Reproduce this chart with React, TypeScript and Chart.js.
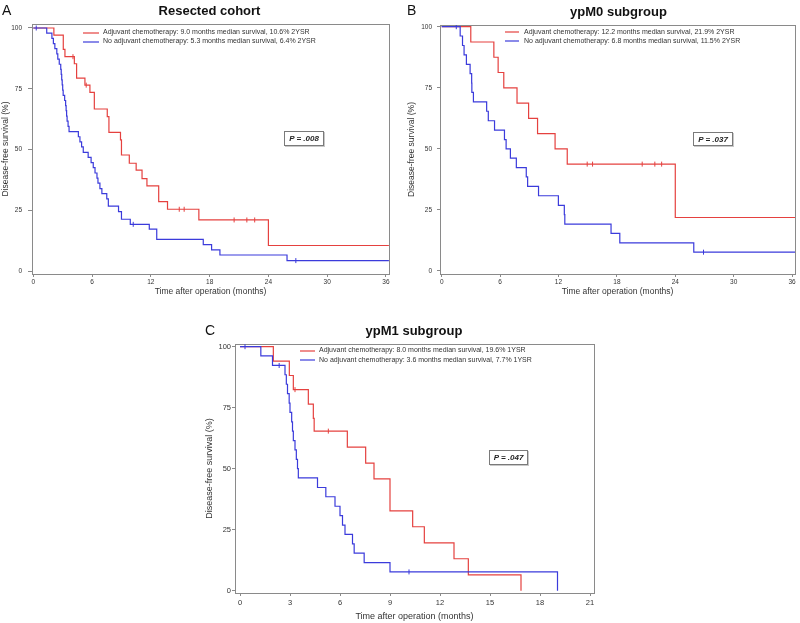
import React, { useEffect, useRef } from 'react';
import { Chart, registerables } from 'chart.js';
Chart.register(...registerables);

const FONT = "'Liberation Sans', Arial, Helvetica, sans-serif";
const RED = '#e5413f';
const BLUE = '#3b3bdb';
const FRAME = '#8a8a8a';
const TEXT = '#333333';

// ---------- data ----------
const Y_TICKS = [0, 25, 50, 75, 100];
const X_TICKS_36 = [0, 6, 12, 18, 24, 30, 36];
const X_TICKS_21 = [0, 3, 6, 9, 12, 15, 18, 21];

// Panel A: Resected cohort
const A_ADJ_T = [0, 2.1, 3.06, 3.23, 4.19, 4.42, 5.27, 5.78, 6.23, 7.55, 7.72, 8.9, 9.0, 9.8, 10.5, 11.1, 11.6, 12.8, 13.7, 16.9, 24.0, 36.3];
const A_ADJ_S = [100, 97.1, 91.2, 88.2, 85.3, 79.4, 76.5, 73.5, 66.7, 63.6, 57.1, 54.0, 47.8, 44.4, 41.6, 38.1, 35.1, 28.6, 25.5, 21.1, 10.6, 10.6];
const A_ADJ_CT = [4.05, 5.4, 14.9, 15.4, 20.5, 21.8, 22.6];
const A_ADJ_CS = [88.2, 76.5, 25.5, 25.5, 21.1, 21.1, 21.1];
const A_NO_T = [0, 1.37, 1.9, 2.05, 2.2, 2.4, 2.5, 2.65, 2.8, 2.85, 2.9, 2.95, 3.0, 3.05, 3.2, 3.3, 3.35, 3.4, 3.45, 3.55, 3.65, 4.6, 4.76, 4.93, 5.1, 5.6, 5.9, 6.12, 6.3, 6.5, 6.6, 6.8, 7.0, 7.5, 7.66, 8.7, 9.0, 9.9, 11.84, 12.6, 17.35, 18.2, 19.05, 25.9, 36.3];
const A_NO_S = [100, 97.9, 95.7, 93.6, 91.5, 89.4, 87.2, 85.1, 83.0, 80.9, 78.7, 76.6, 74.5, 72.3, 70.2, 68.1, 66.0, 63.8, 61.7, 59.6, 57.4, 55.3, 53.2, 51.1, 48.9, 46.8, 44.7, 42.6, 40.4, 38.3, 36.2, 34.0, 31.9, 29.8, 26.8, 24.5, 21.4, 19.3, 17.3, 13.1, 11.0, 8.8, 6.7, 4.4, 4.4];
const A_NO_CT = [0.3, 10.2, 26.8];
const A_NO_CS = [100, 19.3, 4.4];

// Panel B: ypM0 subgroup
const B_ADJ_T = [0, 2.99, 5.36, 5.8, 6.38, 7.74, 8.93, 9.85, 11.65, 12.9, 24.0, 36.3];
const B_ADJ_S = [100, 93.75, 87.5, 81.25, 75, 68.75, 62.5, 56.25, 50, 43.75, 21.9, 21.9];
const B_ADJ_CT = [14.95, 15.5, 20.6, 21.9, 22.6];
const B_ADJ_CS = [43.75, 43.75, 43.75, 43.75, 43.75];
const B_NO_T = [0, 1.9, 2.14, 2.3, 2.54, 2.92, 3.08, 3.1, 3.26, 4.62, 4.79, 5.43, 6.45, 6.62, 7.06, 7.67, 8.69, 8.83, 9.95, 11.99, 12.6, 12.65, 17.4, 18.3, 25.9, 36.3];
const B_NO_S = [100, 96.2, 92.3, 88.5, 84.6, 80.8, 76.9, 73.1, 69.2, 65.4, 61.5, 57.7, 53.8, 50.0, 46.2, 42.3, 38.5, 34.6, 30.8, 26.9, 23.1, 19.2, 15.4, 11.5, 7.7, 7.7];
const B_NO_CT = [1.5, 26.9];
const B_NO_CS = [100, 7.7];

// Panel C: ypM1 subgroup
const C_ADJ_T = [0, 2.0, 2.96, 3.2, 4.1, 4.4, 4.45, 6.44, 7.54, 8.04, 9.0, 10.36, 11.06, 12.84, 13.7, 16.86];
const C_ADJ_S = [100, 94.1, 88.2, 82.4, 76.5, 70.6, 65.4, 58.8, 52.3, 45.8, 32.7, 26.2, 19.6, 13.1, 6.5, 0];
const C_ADJ_CT = [3.3, 5.3];
const C_ADJ_CS = [82.4, 65.4];
const C_NO_T = [0, 1.25, 1.95, 2.7, 2.78, 2.85, 2.95, 3.0, 3.1, 3.15, 3.2, 3.3, 3.38, 3.45, 3.5, 4.65, 5.15, 5.7, 6.0, 6.15, 6.3, 6.75, 6.85, 7.45, 9.0, 19.05];
const C_NO_S = [100, 96.2, 92.3, 88.5, 84.6, 80.8, 76.9, 73.1, 69.2, 65.4, 61.5, 57.7, 53.8, 50.0, 46.2, 42.3, 38.5, 34.6, 30.8, 26.9, 23.1, 19.2, 15.4, 11.5, 7.7, 0];
const C_NO_CT = [0.3, 2.35, 10.14];
const C_NO_CS = [100, 92.3, 7.7];

// ---------- texts ----------
const X_TITLE = 'Time after operation (months)';
const Y_TITLE = 'Disease-free survival (%)';

const framePlugin = {
  id: 'frame',
  beforeDatasetsDraw(chart: any) {
    const { ctx, chartArea: a } = chart;
    ctx.save();
    ctx.strokeStyle = FRAME;
    ctx.lineWidth = 1;
    ctx.strokeRect(Math.round(a.left) + 0.5, Math.round(a.top) + 0.5, Math.round(a.right - a.left), Math.round(a.bottom - a.top));
    ctx.restore();
  },
};

function pts(t: number[], s: number[]) {
  return t.map((x, i) => ({ x, y: s[i] }));
}

type PanelProps = {
  left: number; top: number; width: number; height: number;
  padTop: number; padRight: number; yWidth: number; xHeight: number;
  xMin: number; xMax: number; yMin: number; yMax: number; xTicks: number[];
  tickSize: number; titleSize: number;
  yTickLen: number; yTickPad: number; xTickLen: number; xTickPad: number;
  yTitlePad: number; xTitlePad: number;
  adj: [number[], number[], number[], number[]];
  no: [number[], number[], number[], number[]];
};

function KMPanel(p: PanelProps) {
  const ref = useRef<HTMLCanvasElement>(null);
  useEffect(() => {
    const line = (d: any[], color: string) => ({
      data: d, borderColor: color, backgroundColor: color, borderWidth: 1.2,
      stepped: 'before' as const, pointRadius: 0, fill: false, tension: 0,
    });
    const cens = (d: any[], color: string) => ({
      data: d, borderColor: color, backgroundColor: color, showLine: false,
      pointStyle: 'line' as const, rotation: 90, pointRadius: 2.5, pointBorderWidth: 1, borderWidth: 1,
    });
    const chart = new Chart(ref.current as HTMLCanvasElement, {
      type: 'line',
      data: {
        datasets: [
          line(pts(p.no[0], p.no[1]), BLUE),
          cens(pts(p.no[2], p.no[3]), BLUE),
          line(pts(p.adj[0], p.adj[1]), RED),
          cens(pts(p.adj[2], p.adj[3]), RED),
        ] as any,
      },
      options: {
        animation: false,
        responsive: false,
        maintainAspectRatio: false,
        devicePixelRatio: 1,
        layout: { padding: { top: p.padTop, right: p.padRight, left: 0, bottom: 0 } },
        plugins: { legend: { display: false }, tooltip: { enabled: false }, title: { display: false } },
        scales: {
          x: {
            type: 'linear', min: p.xMin, max: p.xMax,
            afterBuildTicks: (s: any) => { s.ticks = p.xTicks.map((v) => ({ value: v })); },
            afterFit: (s: any) => { s.height = p.xHeight; s.paddingLeft = 0; s.paddingRight = 0; },
            grid: { drawOnChartArea: false, drawTicks: true, tickLength: p.xTickLen, color: FRAME },
            border: { display: true, color: FRAME },
            ticks: { font: { family: FONT, size: p.tickSize, lineHeight: 1 }, color: TEXT, padding: p.xTickPad, maxRotation: 0, autoSkip: false },
            title: { display: true, text: X_TITLE, color: TEXT, font: { family: FONT, size: p.titleSize, lineHeight: 1 }, padding: { top: 0, bottom: p.xTitlePad } },
          },
          y: {
            type: 'linear', min: p.yMin, max: p.yMax,
            afterBuildTicks: (s: any) => { s.ticks = Y_TICKS.map((v) => ({ value: v })); },
            afterFit: (s: any) => { s.width = p.yWidth; s.paddingTop = 0; s.paddingBottom = 0; },
            grid: { drawOnChartArea: false, drawTicks: true, tickLength: p.yTickLen, color: FRAME },
            border: { display: true, color: FRAME },
            ticks: { font: { family: FONT, size: p.tickSize, lineHeight: 1 }, color: TEXT, padding: p.yTickPad, autoSkip: false },
            title: { display: true, text: Y_TITLE, color: TEXT, font: { family: FONT, size: p.titleSize, lineHeight: 1 }, padding: { top: p.yTitlePad, bottom: 0 } },
          },
        },
      } as any,
      plugins: [framePlugin],
    });
    return () => chart.destroy();
  }, []);
  return (
    <canvas ref={ref} width={p.width} height={p.height}
      style={{ position: 'absolute', left: p.left, top: p.top, width: p.width, height: p.height }} />
  );
}

function Txt(props: { x: number; y: number; size: number; text: string; bold?: boolean; italic?: boolean; center?: boolean; color?: string }) {
  const { x, y, size, text, bold, italic, center, color } = props;
  return (
    <div style={{
      position: 'absolute', left: center ? x - 300 : x, width: center ? 600 : undefined,
      top: y - size, height: size * 2, lineHeight: `${size * 2}px`, fontSize: size,
      fontFamily: FONT, fontWeight: bold ? 'bold' : 'normal', fontStyle: italic ? 'italic' : 'normal',
      textAlign: center ? 'center' : 'left', whiteSpace: 'nowrap', color: color || '#111',
    }}>{text}</div>
  );
}

function Swatch(props: { x1: number; x2: number; y: number; color: string }) {
  return (
    <svg style={{ position: 'absolute', left: props.x1, top: Math.round(props.y) - 2, overflow: 'visible' }}
      width={props.x2 - props.x1} height={4}>
      <line x1={0} y1={2} x2={props.x2 - props.x1} y2={2} stroke={props.color} strokeWidth={1.2} />
    </svg>
  );
}

function Legend(props: { x1: number; x2: number; tx: number; y1: number; y2: number; adj: string; no: string }) {
  const { x1, x2, tx, y1, y2 } = props;
  return (
    <>
      <Swatch x1={x1} x2={x2} y={y1} color={RED} />
      <Txt x={tx} y={y1 - 0.5} size={7} text={props.adj} color={TEXT} />
      <Swatch x1={x1} x2={x2} y={y2} color={BLUE} />
      <Txt x={tx} y={y2 - 0.5} size={7} text={props.no} color={TEXT} />
    </>
  );
}

function PBox(props: { x: number; y: number; w: number; h: number; text: string }) {
  return (
    <div style={{
      position: 'absolute', left: props.x, top: props.y, width: props.w - 2, height: props.h - 2,
      border: '1px solid #7a7a7a', boxShadow: '1px 1px 0 #c8c8c8', background: '#fff',
      display: 'flex', alignItems: 'center', justifyContent: 'center',
      fontFamily: FONT, fontSize: 8, fontWeight: 'bold', fontStyle: 'italic', color: '#222',
    }}>{props.text}</div>
  );
}

export default function App() {
  return (
    <div style={{ position: 'absolute', left: 0, top: 0, width: 800, height: 623, background: '#fff', overflow: 'hidden' }}>
      <KMPanel left={0} top={0} width={400} height={300} padTop={24} padRight={11} yWidth={32} xHeight={26}
        xMin={-0.133} xMax={36.31} yMin={-1.11} yMax={101.64} xTicks={X_TICKS_36}
        tickSize={6.5} titleSize={8.5} yTickLen={4} yTickPad={6} xTickLen={3} xTickPad={2.2}
        yTitlePad={1.75} xTitlePad={3.75}
        adj={[A_ADJ_T, A_ADJ_S, A_ADJ_CT, A_ADJ_CS]} no={[A_NO_T, A_NO_S, A_NO_CT, A_NO_CS]} />
      <KMPanel left={400} top={0} width={400} height={300} padTop={25} padRight={2} yWidth={40} xHeight={26}
        xMin={-0.173} xMax={36.3} yMin={-1.23} yMax={100.7} xTicks={X_TICKS_36}
        tickSize={6.5} titleSize={8.5} yTickLen={3} yTickPad={5} xTickLen={3} xTickPad={2.2}
        yTitlePad={7.25} xTitlePad={3.75}
        adj={[B_ADJ_T, B_ADJ_S, B_ADJ_CT, B_ADJ_CS]} no={[B_NO_T, B_NO_S, B_NO_CT, B_NO_CS]} />
      <KMPanel left={200} top={318} width={400} height={305} padTop={26} padRight={6} yWidth={35} xHeight={30}
        xMin={-0.3} xMax={21.24} yMin={-0.94} yMax={101.1} xTicks={X_TICKS_21}
        tickSize={7.5} titleSize={9} yTickLen={3} yTickPad={1} xTickLen={3} xTickPad={3.5}
        yTitlePad={5} xTitlePad={1.5}
        adj={[C_ADJ_T, C_ADJ_S, C_ADJ_CT, C_ADJ_CS]} no={[C_NO_T, C_NO_S, C_NO_CT, C_NO_CS]} />

      <Txt x={2} y={9.5} size={14} text="A" />
      <Txt x={209.5} y={10.5} size={13} text="Resected cohort" bold center />
      <Legend x1={83} x2={99} tx={103} y1={32.7} y2={41.7}
        adj="Adjuvant chemotherapy: 9.0 months median survival, 10.6% 2YSR"
        no="No adjuvant chemotherapy: 5.3 months median survival, 6.4% 2YSR" />
      <PBox x={284} y={131} w={40} h={15} text="P = .008" />

      <Txt x={407} y={9.5} size={14} text="B" />
      <Txt x={618.5} y={11.5} size={13} text="ypM0 subgroup" bold center />
      <Legend x1={505} x2={519} tx={524} y1={32.3} y2={41}
        adj="Adjuvant chemotherapy: 12.2 months median survival, 21.9% 2YSR"
        no="No adjuvant chemotherapy: 6.8 months median survival, 11.5% 2YSR" />
      <PBox x={693} y={132} w={40} h={14} text="P = .037" />

      <Txt x={205} y={329.5} size={14} text="C" />
      <Txt x={414} y={331} size={13} text="ypM1 subgroup" bold center />
      <Legend x1={300} x2={315} tx={319} y1={350.7} y2={360}
        adj="Adjuvant chemotherapy: 8.0 months median survival, 19.6% 1YSR"
        no="No adjuvant chemotherapy: 3.6 months median survival, 7.7% 1YSR" />
      <PBox x={489} y={450} w={39} h={15} text="P = .047" />
    </div>
  );
}
